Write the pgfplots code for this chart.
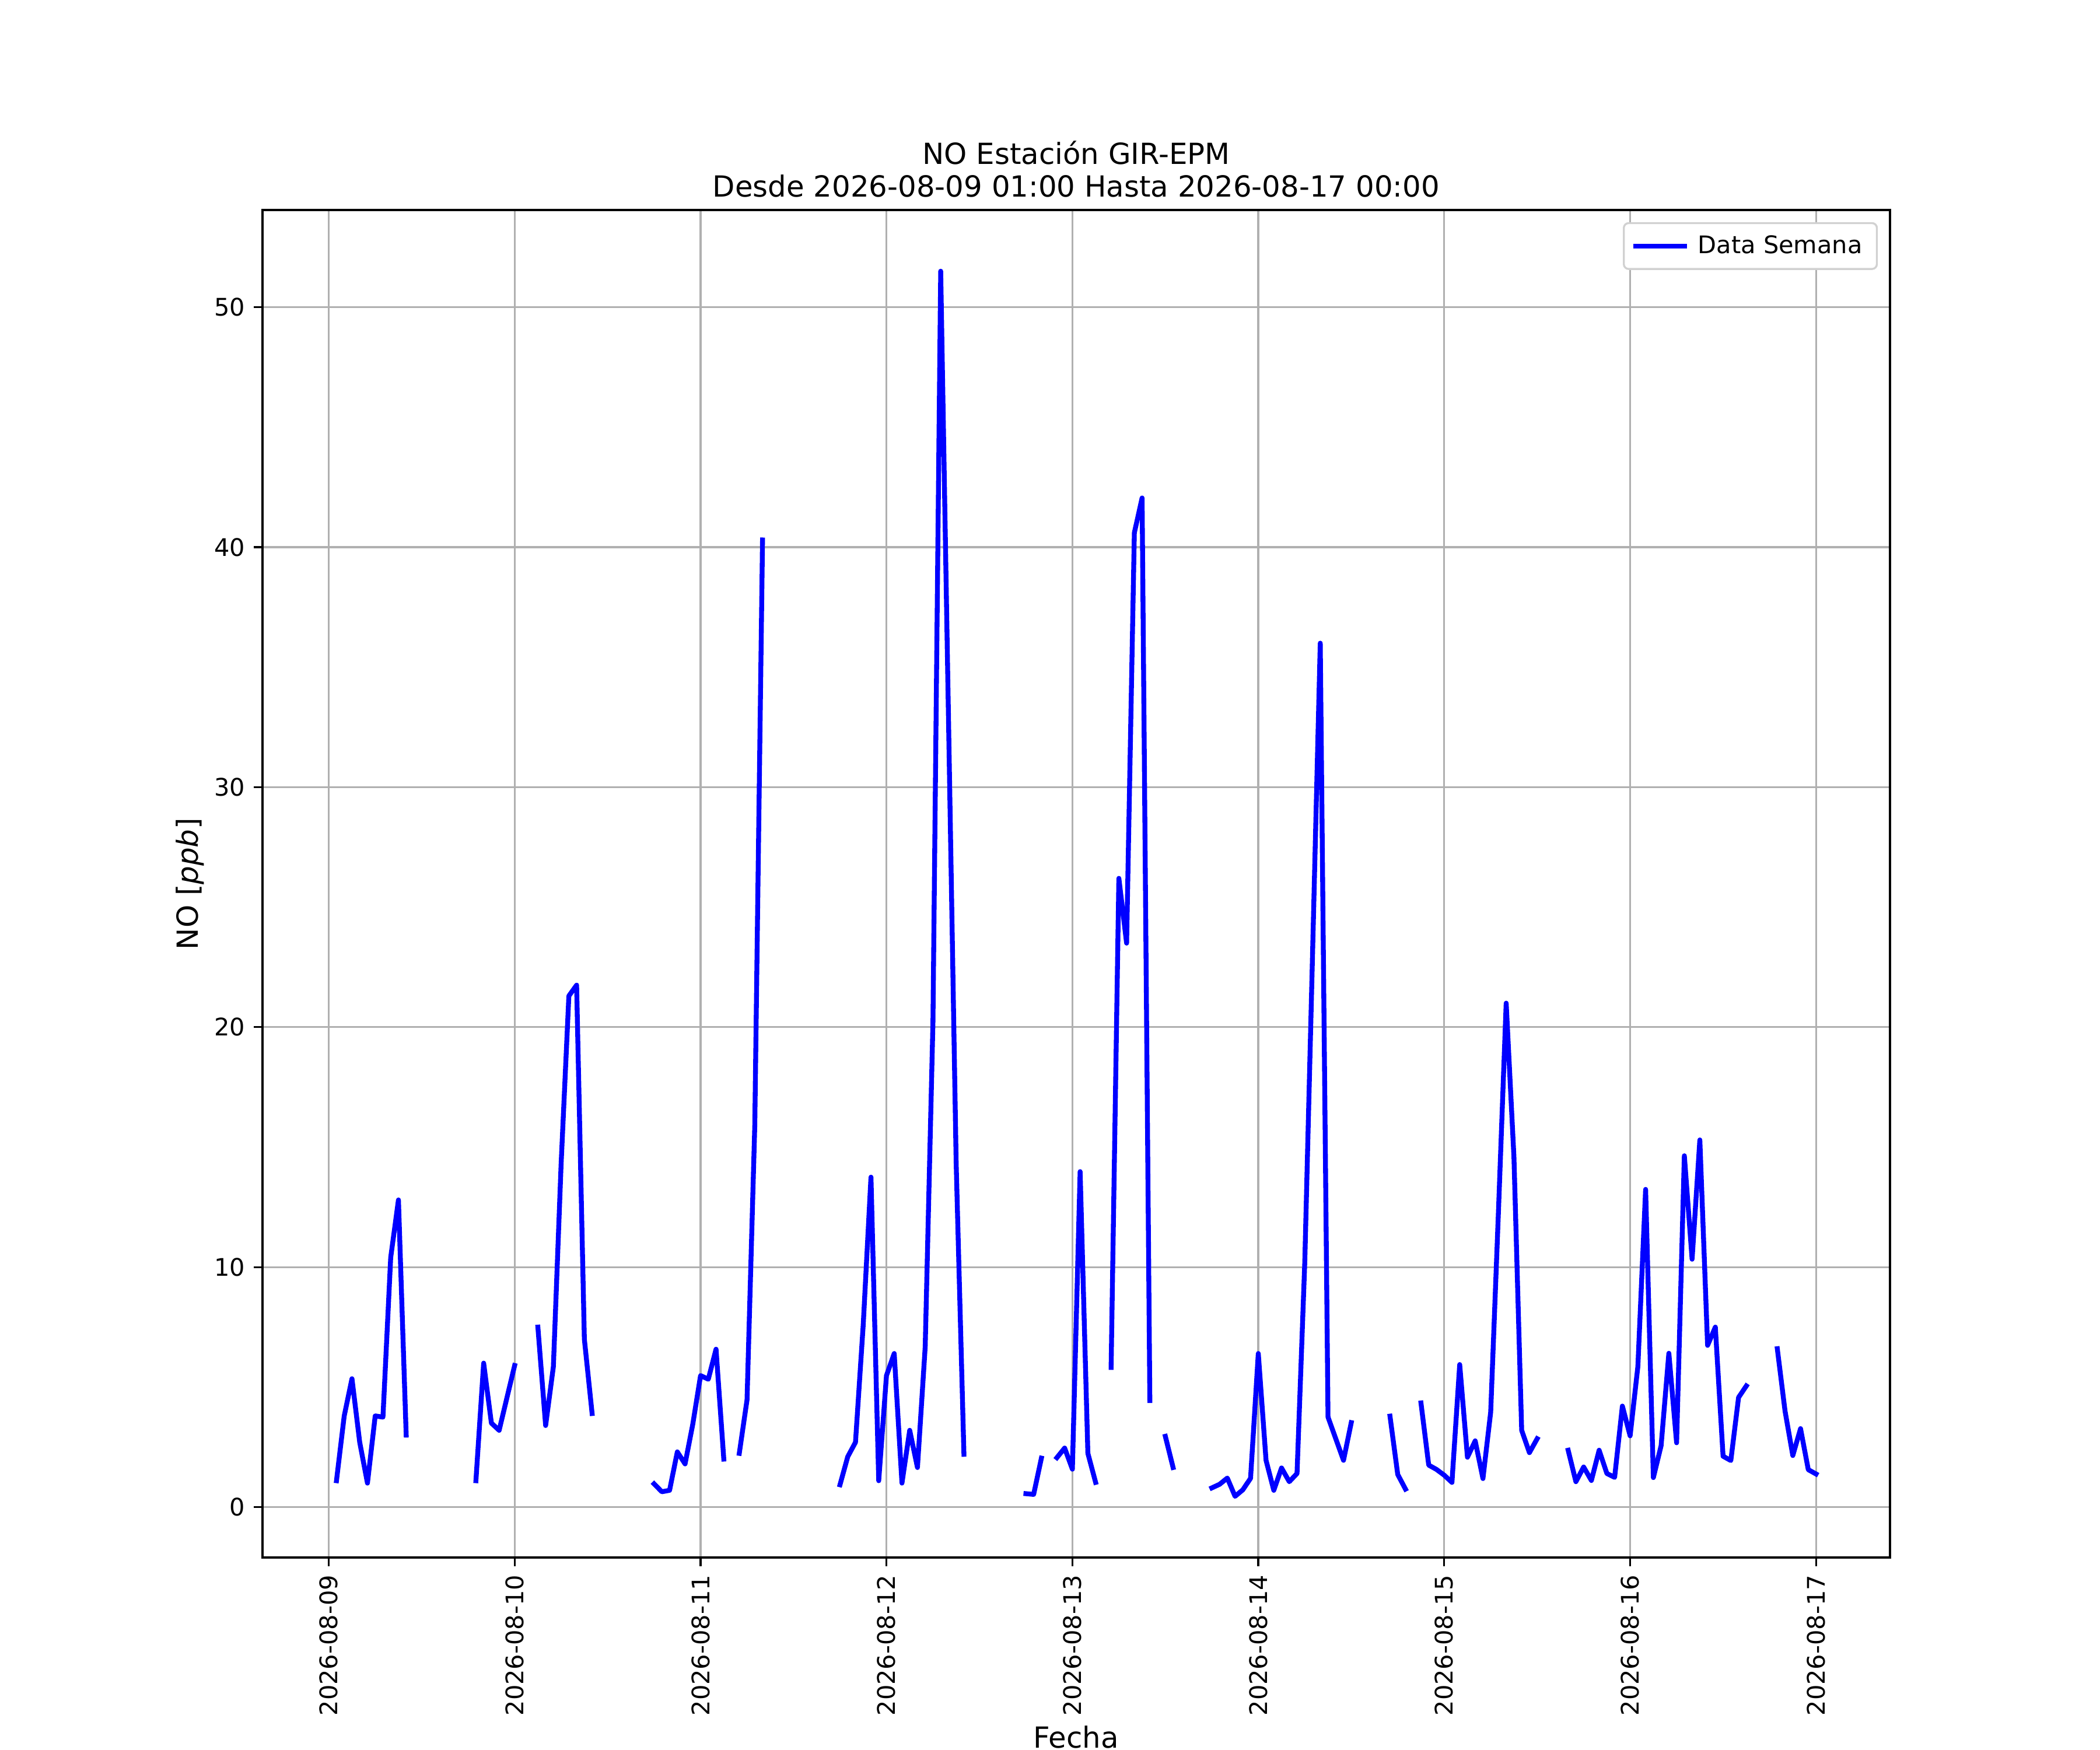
\documentclass[border=0pt]{standalone}
\usepackage{fontspec}
\setmainfont{DejaVu Sans}
\usepackage{pgfplots}
\usepackage{pgfplotstable}
\pgfplotsset{compat=1.18}
\pgfplotstableread{
h v
1 1.1
2 3.8
3 5.35
4 2.7
5 1.0
6 3.8
7 3.75
8 10.4
9 12.8
10 3.0
11 nan
19 1.1
20 6.0
21 3.5
22 3.2
23 4.55
24 5.9
25 nan
27 7.5
28 3.4
29 5.85
30 14.3
31 21.3
32 21.75
33 7.0
34 3.9
35 nan
42 0.97
43 0.64
44 0.70
45 2.3
46 1.8
47 3.46
48 5.48
49 5.33
50 6.58
51 2.0
52 nan
53 2.24
54 4.47
55 15.9
56 40.3
57 nan
66 0.93
67 2.1
68 2.7
69 7.6
70 13.75
71 1.1
72 5.48
73 6.4
74 1.0
75 3.2
76 1.65
77 6.68
78 20.2
79 51.5
80 33.0
81 14.3
82 2.2
83 nan
90 0.56
91 0.53
92 2.04
93 nan
94 2.06
95 2.46
96 1.58
97 13.98
98 2.24
99 1.03
100 nan
101 5.82
102 26.2
103 23.5
104 40.6
105 42.05
106 4.44
107 nan
108 2.95
109 1.65
110 nan
114 0.8
115 0.95
116 1.21
117 0.45
118 0.72
119 1.2
120 6.4
121 1.95
122 0.7
123 1.63
124 1.06
125 1.4
126 10.2
127 23.0
128 36.0
129 3.75
130 2.85
131 1.95
132 3.52
133 nan
137 3.79
138 1.36
139 0.75
140 nan
141 4.34
142 1.75
143 1.57
144 1.33
145 1.03
146 5.94
147 2.08
148 2.76
149 1.19
150 3.96
151 12.3
152 21.0
153 14.6
154 3.2
155 2.27
156 2.85
157 nan
160 2.37
161 1.06
162 1.67
163 1.11
164 2.37
165 1.4
166 1.24
167 4.21
168 2.97
169 5.86
170 13.24
171 1.23
172 2.56
173 6.41
174 2.68
175 14.64
176 10.33
177 15.3
178 6.74
179 7.5
180 2.12
181 1.94
182 4.57
183 5.05
184 nan
187 6.6
188 4.0
189 2.15
190 3.27
191 1.56
192 1.38
}\datatable
\begin{document}
\begin{tikzpicture}
\path[use as bounding box] (-1.5in,-1.1in) rectangle (10.5in,8.9in);
\begin{axis}[
  at={(0,0)}, anchor=south west,
  width=9.3in, height=7.7in, scale only axis,
  xmin=-8.55, xmax=201.55, ymin=-2.1, ymax=54.05,
  xtick={0,24,48,72,96,120,144,168,192},
  xticklabels={2026-08-09,2026-08-10,2026-08-11,2026-08-12,2026-08-13,2026-08-14,2026-08-15,2026-08-16,2026-08-17},
  ytick={0,10,20,30,40,50},
  /pgf/number format/assume math mode=true,
  xtick pos=left, ytick pos=left,
  tick align=outside, major tick length=3.5bp,
  tick style={black, line width=0.8bp},
  axis line style={line width=0.8bp},
  grid=major, major grid style={color=black!31, line width=0.8bp},
  xticklabel style={rotate=90, anchor=east, inner sep=0pt, font=\fontsize{10}{12}\selectfont},
  yticklabel style={anchor=east, inner sep=0pt, font=\fontsize{10}{12}\selectfont},
  xticklabel shift=3.5bp, yticklabel shift=3.5bp,
  title={NO Estación GIR-EPM\\Desde 2026-08-09 01:00 Hasta 2026-08-17 00:00},
  title style={align=center, font=\fontsize{12}{13.5}\selectfont, at={(0.5,1)}, anchor=south, inner sep=0pt, yshift=-1bp},
  xlabel={Fecha}, ylabel={NO [\textit{ppb}]},
  xlabel style={font=\fontsize{12}{14}\selectfont, inner sep=0pt, yshift=-4bp},
  ylabel style={font=\fontsize{12}{14}\selectfont, inner sep=0pt, yshift=4bp},
  legend style={at={(1,1)}, anchor=north east, xshift=-5bp, yshift=-5bp,
    draw=black!18, line width=0.8bp, rounded corners=2bp, fill=white,
    inner xsep=4bp, inner ysep=3bp, column sep=2.5bp,
    font=\fontsize{10}{12}\selectfont},
  legend cell align=left,
  legend image code/.code={\draw[#1, line width=2bp] (0bp,0bp) -- (20bp,0bp);},
  unbounded coords=jump,
]
\addplot[color=blue, line width=2bp, line join=round, line cap=rect] table[x=h, y=v] {\datatable};
\addlegendentry{Data Semana}
\end{axis}
\end{tikzpicture}
\end{document}
